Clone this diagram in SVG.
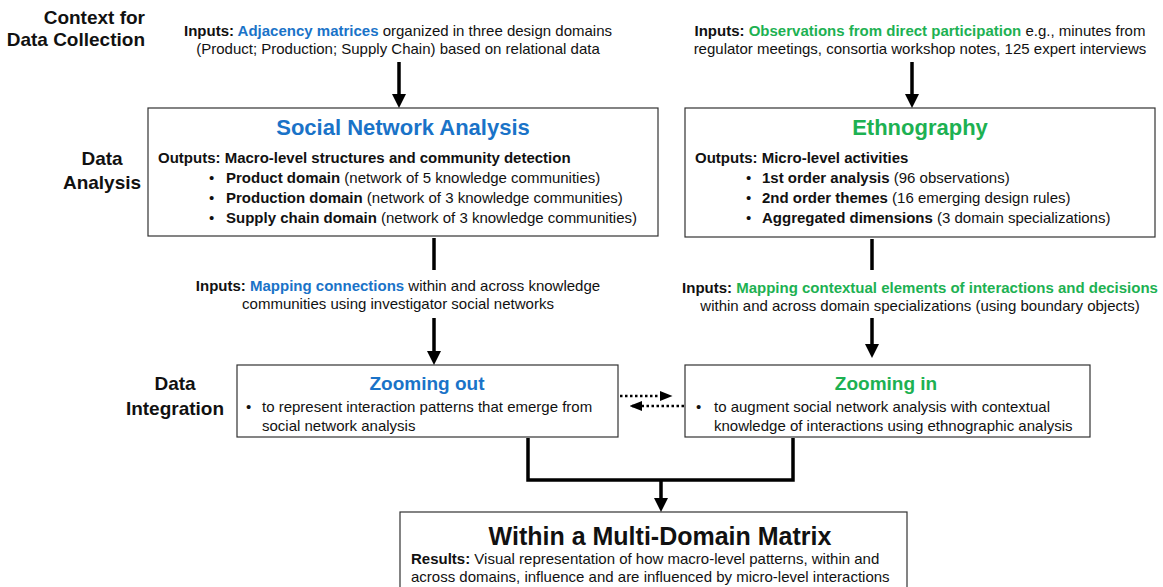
<svg xmlns="http://www.w3.org/2000/svg" width="1163" height="587" viewBox="0 0 1163 587">
<style>
text{font-family:"Liberation Sans",Arial,sans-serif;fill:#111;}
.lab{font-size:19px;font-weight:bold;}
.t{font-size:15px;}
.b{font-weight:bold;}
.blue{fill:#1a73c8;}
.green{fill:#1db152;}
.title{font-size:22px;font-weight:bold;}
.sub{font-size:19px;font-weight:bold;}
.box{fill:#fff;stroke:#333;stroke-width:1.2;}
.ln{fill:none;stroke:#000;stroke-width:3.5;}
.dot{fill:none;stroke:#000;stroke-width:2.5;stroke-dasharray:2.5 2.5;}
</style>
<defs>
<marker id="ah" markerWidth="4" markerHeight="4" refX="2" refY="2" orient="auto" markerUnits="strokeWidth"><path d="M0,0 L4,2 L0,4 z" fill="#000"/></marker>
<marker id="ahs" markerWidth="5" markerHeight="4" refX="4" refY="2" orient="auto" markerUnits="strokeWidth"><path d="M0,0 L5,2 L0,4 z" fill="#000"/></marker>
</defs>

<g id="stage-labels">
<text class="lab" x="145" y="24" text-anchor="end">Context for</text>
<text class="lab" x="145" y="46" text-anchor="end">Data Collection</text>
<text class="lab" x="102" y="165" text-anchor="middle">Data</text>
<text class="lab" x="102" y="189" text-anchor="middle">Analysis</text>
<text class="lab" x="175" y="390" text-anchor="middle">Data</text>
<text class="lab" x="175" y="415" text-anchor="middle">Integration</text>
</g>

<g id="input-sna">
<text class="t" x="398" y="36" text-anchor="middle"><tspan class="b">Inputs: </tspan><tspan class="b blue">Adjacency matrices</tspan> organized in three design domains</text>
<text class="t" x="398" y="54" text-anchor="middle">(Product; Production; Supply Chain) based on relational data</text>
</g>

<g id="input-eth">
<text class="t" x="920" y="36" text-anchor="middle"><tspan class="b">Inputs: </tspan><tspan class="b green">Observations from direct participation</tspan> e.g., minutes from</text>
<text class="t" x="920" y="54" text-anchor="middle">regulator meetings, consortia workshop notes, 125 expert interviews</text>
</g>

<g id="sna">
<rect class="box" x="148" y="108" width="510" height="128"/>
<text class="title blue" x="403" y="135" text-anchor="middle">Social Network Analysis</text>
<text class="t b" x="158" y="163">Outputs: Macro-level structures and community detection</text>
<text class="t" x="209" y="183">•</text><text class="t" x="226" y="183"><tspan class="b">Product domain</tspan> (network of 5 knowledge communities)</text>
<text class="t" x="209" y="203">•</text><text class="t" x="226" y="203"><tspan class="b">Production domain</tspan> (network of 3 knowledge communities)</text>
<text class="t" x="209" y="223">•</text><text class="t" x="226" y="223"><tspan class="b">Supply chain domain</tspan> (network of 3 knowledge communities)</text>
</g>

<g id="ethnography">
<rect class="box" x="685" y="108" width="470" height="129"/>
<text class="title green" x="920" y="135" text-anchor="middle">Ethnography</text>
<text class="t b" x="695" y="163">Outputs: Micro-level activities</text>
<text class="t" x="746" y="183">•</text><text class="t" x="762" y="183"><tspan class="b">1st order analysis</tspan> (96 observations)</text>
<text class="t" x="746" y="203">•</text><text class="t" x="762" y="203"><tspan class="b">2nd order themes</tspan> (16 emerging design rules)</text>
<text class="t" x="746" y="223">•</text><text class="t" x="762" y="223"><tspan class="b">Aggregated dimensions</tspan> (3 domain specializations)</text>
</g>

<g id="mid-input-sna">
<text class="t" x="398" y="291" text-anchor="middle"><tspan class="b">Inputs: </tspan><tspan class="b blue">Mapping connections</tspan> within and across knowledge</text>
<text class="t" x="398" y="309" text-anchor="middle">communities using investigator social networks</text>
</g>

<g id="mid-input-eth">
<text class="t" x="920" y="293" text-anchor="middle"><tspan class="b">Inputs: </tspan><tspan class="b green">Mapping contextual elements of interactions and decisions</tspan></text>
<text class="t" x="920" y="311" text-anchor="middle">within and across domain specializations (using boundary objects)</text>
</g>

<g id="zoom-out">
<rect class="box" x="237" y="365" width="381" height="72"/>
<text class="sub blue" x="427" y="390" text-anchor="middle">Zooming out</text>
<text class="t" x="246" y="412">•</text>
<text class="t" x="262" y="412">to represent interaction patterns that emerge from</text>
<text class="t" x="262" y="431">social network analysis</text>
</g>

<g id="zoom-in">
<rect class="box" x="685" y="365" width="405" height="72"/>
<text class="sub green" x="886" y="390" text-anchor="middle">Zooming in</text>
<text class="t" x="696" y="412">•</text>
<text class="t" x="714" y="412">to augment social network analysis with contextual</text>
<text class="t" x="714" y="431">knowledge of interactions using ethnographic analysis</text>
</g>

<g id="mdm">
<rect class="box" x="400" y="512" width="507" height="80"/>
<text x="660" y="545" text-anchor="middle" style="font-size:25px;font-weight:bold">Within a Multi-Domain Matrix</text>
<text class="t" x="411" y="564"><tspan class="b">Results:</tspan> Visual representation of how macro-level patterns, within and</text>
<text class="t" x="411" y="582">across domains, influence and are influenced by micro-level interactions</text>
</g>

<g id="connectors">
<line class="ln" x1="399" y1="62" x2="399" y2="101" marker-end="url(#ah)"/>
<line class="ln" x1="912" y1="62" x2="912" y2="101" marker-end="url(#ah)"/>
<line class="ln" x1="434" y1="238" x2="434" y2="270"/>
<line class="ln" x1="434" y1="318" x2="434" y2="358" marker-end="url(#ah)"/>
<line class="ln" x1="872" y1="239" x2="872" y2="270"/>
<line class="ln" x1="872" y1="318" x2="872" y2="351" marker-end="url(#ah)"/>
<line class="dot" x1="620" y1="396" x2="670" y2="396" marker-end="url(#ahs)"/>
<line class="dot" x1="684" y1="406" x2="632" y2="406" marker-end="url(#ahs)"/>
<polyline class="ln" points="528,438 528,480 793,480 793,438"/>
<line class="ln" x1="661" y1="480" x2="661" y2="505" marker-end="url(#ah)"/>
</g>
</svg>
